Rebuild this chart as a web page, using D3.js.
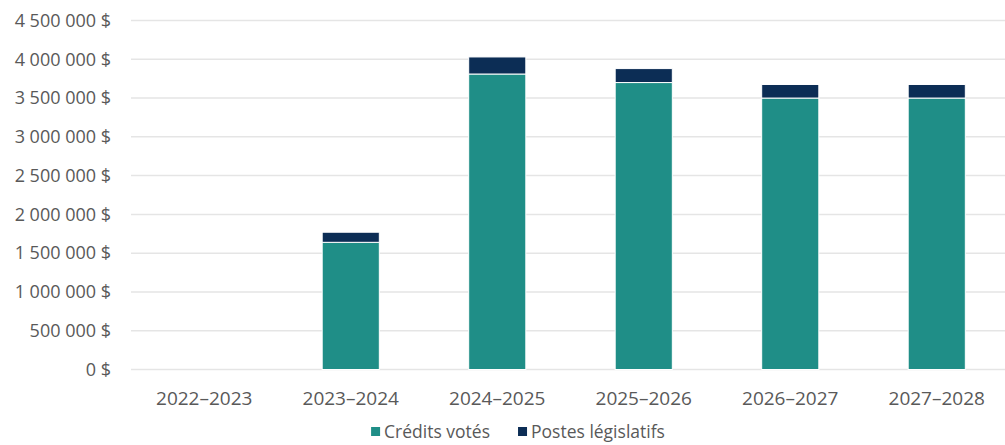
<!DOCTYPE html>
<html lang="fr">
<head>
    <meta charset="UTF-8">
    <title>Crédits votés et postes législatifs</title>
    <style>
        body {
            margin: 0;
            background: #ffffff;
            overflow: hidden;
        }
        svg {
            display: block;
            font-family: "Open Sans", sans-serif;
        }
        .tick-label {
            fill: #595959;
        }
        .y-label { font-size: 18px; }
        .x-label { font-size: 19px; }
        .legend-label { font-size: 17.5px; }
        .grid line {
            stroke: #e5e5e5;
            stroke-width: 1.5;
        }
    </style>
</head>
<body>
    <svg id="chart" width="1005" height="445"></svg>

    <script src="https://d3js.org/d3.v7.min.js"></script>
    <script>
        // values (dollars)
        const years = ["2022–2023", "2023–2024", "2024–2025", "2025–2026", "2026–2027", "2027–2028"];
        const creditsVotes = [0, 1640000, 3810000, 3700000, 3500000, 3500000];
        const postesLegislatifs = [0, 130000, 220000, 180000, 175000, 175000];
        const yTicks = [0, 500000, 1000000, 1500000, 2000000, 2500000, 3000000, 3500000, 4000000, 4500000];
        const seriesNames = ["Crédits votés", "Postes législatifs"];
        const seriesColours = ["#1f8e87", "#0c2d55"];

        const svg = d3.select("#chart");
        const plotLeft = 131, plotRight = 1010, plotTop = 20.5, plotBottom = 369.5;

        const x = d3.scaleBand()
            .domain(years)
            .range([plotLeft, plotRight])
            .paddingInner(0.61)
            .paddingOuter(0.305);

        const y = d3.scaleLinear()
            .domain([0, 4500000])
            .range([plotBottom, plotTop]);

        // french style thousands: space separator, "$" after
        const fmt = d3.formatLocale({ decimal: ",", thousands: " ", grouping: [3], currency: ["", " $"] }).format("$,");

        // gridlines
        svg.append("g")
            .attr("class", "grid")
            .selectAll("line")
            .data(yTicks)
            .enter().append("line")
            .attr("x1", plotLeft)
            .attr("x2", 1005)
            .attr("y1", d => y(d))
            .attr("y2", d => y(d));

        // y labels
        svg.append("g")
            .selectAll("text")
            .data(yTicks)
            .enter().append("text")
            .attr("class", "tick-label y-label")
            .attr("x", 111)
            .attr("y", d => y(d))
            .attr("dy", "0.35em")
            .attr("text-anchor", "end")
            .text(d => fmt(d));

        // stacked bars
        const rows = years.map((yr, i) => ({ year: yr, credits: creditsVotes[i], postes: postesLegislatifs[i] }));
        const stack = d3.stack().keys(["credits", "postes"]);
        const layers = stack(rows);

        svg.append("g")
            .selectAll("g")
            .data(layers)
            .enter().append("g")
            .attr("fill", (d, i) => seriesColours[i])
            .selectAll("rect")
            .data(d => d.filter(s => s[1] - s[0] > 0))
            .enter().append("rect")
            .attr("x", d => x(d.data.year))
            .attr("width", x.bandwidth())
            .attr("y", d => y(d[1]))
            .attr("height", d => y(d[0]) - y(d[1]))
            .attr("stroke", "#ffffff")
            .attr("stroke-width", 1);

        // x labels
        svg.append("g")
            .selectAll("text")
            .data(years)
            .enter().append("text")
            .attr("class", "tick-label x-label")
            .attr("x", d => x(d) + x.bandwidth() / 2)
            .attr("y", 405)
            .attr("text-anchor", "middle")
            .text(d => d);

        // legend, centred under the plot
        const legend = svg.append("g").attr("transform", "translate(0,438)");
        const items = legend.selectAll("g")
            .data(seriesNames)
            .enter().append("g");
        items.append("rect")
            .attr("x", 0)
            .attr("y", -11)
            .attr("width", 9)
            .attr("height", 9)
            .attr("fill", (d, i) => seriesColours[i]);
        items.append("text")
            .attr("class", "tick-label legend-label")
            .attr("x", 13)
            .attr("y", 0)
            .text(d => d);

        const gap = 28;
        const widths = [];
        items.each(function() {
            widths.push(this.getBBox().width);
        });
        const total = d3.sum(widths) + gap * (widths.length - 1);
        let offset = 518 - total / 2;
        items.attr("transform", (d, i) => {
            const t = `translate(${offset},0)`;
            offset += widths[i] + gap;
            return t;
        });
    </script>
</body>
</html>
